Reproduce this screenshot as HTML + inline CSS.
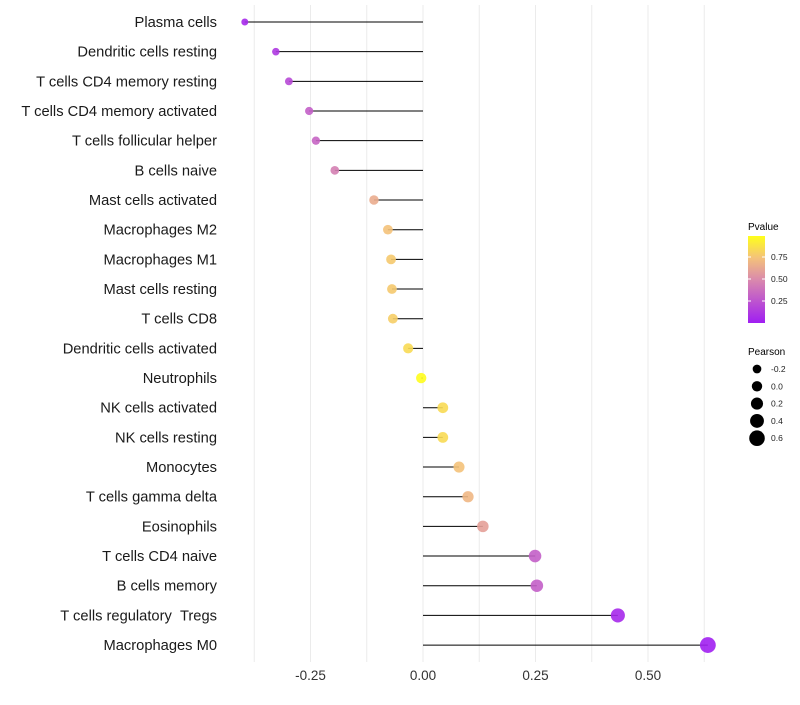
<!DOCTYPE html>
<html><head><meta charset="utf-8"><style>
body{margin:0;background:#fff;font-family:"Liberation Sans",sans-serif}
svg text{font-family:"Liberation Sans",sans-serif}
</style></head><body>
<svg id="c" width="800" height="700">
<defs><linearGradient id="pg" x1="0" y1="1" x2="0" y2="0">
<stop offset="0" stop-color="#a01ef2"/><stop offset="0.5" stop-color="#da8aac"/><stop offset="0.75" stop-color="#f4c27a"/><stop offset="1" stop-color="#ffff1a"/></linearGradient></defs>
<g id="grid"></g><g id="marks"></g><g id="labels"></g>
<g>
<text x="748" y="230" font-size="10">Pvalue</text>
<rect x="748" y="236" width="17" height="87" fill="url(#pg)"/>
<g id="pticks"></g>
</g>
<g>
<text x="748" y="355" font-size="10">Pearson</text>
<g id="sleg"></g>
</g>
</svg>
<script>
const categories=["Plasma cells","Dendritic cells resting","T cells CD4 memory resting","T cells CD4 memory activated","T cells follicular helper","B cells naive","Mast cells activated","Macrophages M2","Macrophages M1","Mast cells resting","T cells CD8","Dendritic cells activated","Neutrophils","NK cells activated","NK cells resting","Monocytes","T cells gamma delta","Eosinophils","T cells CD4 naive","B cells memory","T cells regulatory \u00a0Tregs","Macrophages M0"];
const pearson=[-0.396,-0.327,-0.298,-0.253,-0.238,-0.196,-0.109,-0.078,-0.071,-0.069,-0.067,-0.033,-0.004,0.044,0.044,0.080,0.100,0.133,0.249,0.253,0.433,0.633];
const pvalues=[0.05,0.12,0.2,0.3,0.33,0.45,0.65,0.75,0.78,0.78,0.8,0.85,0.99,0.85,0.85,0.75,0.7,0.6,0.3,0.3,0.05,0.01];
const xTicks=[-0.25,0,0.25,0.5];
const xTickLabels=["-0.25","0.00","0.25","0.50"];
const pTicks=[0.25,0.5,0.75];
const sizeLegend=[-0.2,0,0.2,0.4,0.6];
const NS="http://www.w3.org/2000/svg";
const X=v=>423+v*450;
const Y=i=>22+i*29.67;
const R=v=>Math.max(2,5.2+4.3*v);
function mk(t,a,p){const e=document.createElementNS(NS,t);for(const k in a)e.setAttribute(k,a[k]);p.appendChild(e);return e;}
const stops=[[0,[160,30,242]],[0.5,[218,138,172]],[0.75,[244,194,122]],[1,[255,255,26]]];
function col(p){for(let i=1;i<stops.length;i++){if(p<=stops[i][0]){const a=stops[i-1],b=stops[i],t=(p-a[0])/(b[0]-a[0]);return "rgb("+a[1].map((c,j)=>Math.round(c+(b[1][j]-c)*t)).join(",")+")";}}return "rgb(255,255,26)";}
const g=document.getElementById('grid'),m=document.getElementById('marks'),l=document.getElementById('labels');
for(let v=-0.375;v<=0.63;v+=0.125){const ln=mk('line',{x1:X(v),x2:X(v),y1:5,y2:662,stroke:'#ebebeb','stroke-width':1},g);

}
categories.forEach((c,i)=>{const y=Y(i);
const t=mk('text',{x:217,y:y+5,'text-anchor':'end','font-size':14.7,fill:'#1a1a1a'},l);t.textContent=c;


const ln=mk('line',{x1:X(0),x2:X(pearson[i]),y1:y,y2:y,stroke:'#000','stroke-width':1},m);


const d=mk('circle',{cx:X(pearson[i]),cy:y,r:R(pearson[i]),fill:col(pvalues[i]),'fill-opacity':0.9},m);

});
xTicks.forEach((v,i)=>{const t=mk('text',{x:X(v),y:680,'text-anchor':'middle','font-size':13.5,fill:'#333'},l);t.textContent=xTickLabels[i];

});
const pt=document.getElementById('pticks');
pTicks.forEach(p=>{const y=323-p*88;
mk('line',{x1:748,x2:751,y1:y,y2:y,stroke:'#fff'},pt);mk('line',{x1:762,x2:765,y1:y,y2:y,stroke:'#fff'},pt);
const t=mk('text',{x:771,y:y+3,'font-size':8.5,fill:'#222'},pt);t.textContent=p.toFixed(2);

});
const sl=document.getElementById('sleg');
sizeLegend.forEach((v,i)=>{const y=369+i*17.3;
const c=mk('circle',{cx:757,cy:y,r:R(v),fill:'#000'},sl);


const t=mk('text',{x:771,y:y+3,'font-size':8.5,fill:'#222'},sl);t.textContent=v.toFixed(1);

});
</script>
</body></html>
